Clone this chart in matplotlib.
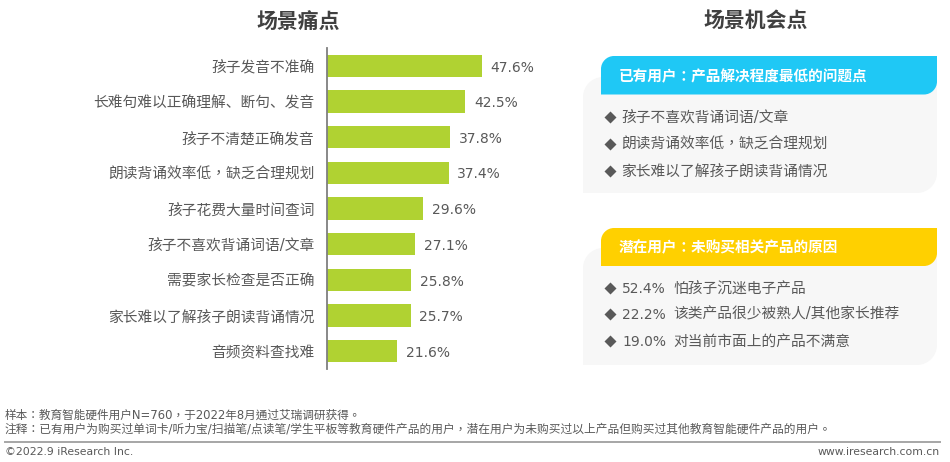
import matplotlib
matplotlib.use("Agg")
import matplotlib.pyplot as plt
from matplotlib.patches import PathPatch
from matplotlib.path import Path

SC = ['DejaVu Sans', 'Noto Sans CJK SC']
TC = ['DejaVu Sans', 'Noto Sans CJK TC']   # centred full-width punctuation
plt.rcParams['font.family'] = SC

categories = ['孩子发音不准确', '长难句难以正确理解、断句、发音', '孩子不清楚正确发音',
              '朗读背诵效率低，缺乏合理规划', '孩子花费大量时间查词', '孩子不喜欢背诵词语/文章',
              '需要家长检查是否正确', '家长难以了解孩子朗读背诵情况', '音频资料查找难']
values = [47.6, 42.5, 37.8, 37.4, 29.6, 27.1, 25.8, 25.7, 21.6]
title_left = '场景痛点'
title_right = '场景机会点'
head_existing = '已有用户：产品解决程度最低的问题点'
items_existing = ['孩子不喜欢背诵词语/文章', '朗读背诵效率低，缺乏合理规划', '家长难以了解孩子朗读背诵情况']
head_potential = '潜在用户：未购买相关产品的原因'
pct_potential = ['52.4%', '22.2%', '19.0%']
items_potential = ['怕孩子沉迷电子产品', '该类产品很少被熟人/其他家长推荐', '对当前市面上的产品不满意']
note_1 = '样本：教育智能硬件用户N=760，于2022年8月通过艾瑞调研获得。'
note_2 = '注释：已有用户为购买过单词卡/听力宝/扫描笔/点读笔/学生平板等教育硬件产品的用户，潜在用户为未购买过以上产品但购买过其他教育智能硬件产品的用户。'
copyright_text = '©2022.9 iResearch Inc.'
site_text = 'www.iresearch.com.cn'


def fam(s):
    return TC if ('，' in s or '：' in s) else SC


W, H = 950, 462
TXT = '#595959'
fig = plt.figure(figsize=(W / 100, H / 100), dpi=100, facecolor='white')

# pixel overlay for panels and notes
ov = fig.add_axes([0, 0, 1, 1])
ov.set_xlim(0, W)
ov.set_ylim(H, 0)
ov.axis('off')


def tab(x0, y0, x1, y1, r, color, z):
    """Rectangle with rounded top-left and bottom-right corners."""
    k = 0.45 * r
    verts = [(x0, y1), (x0, y0 + r), (x0, y0 + k), (x0 + k, y0), (x0 + r, y0),
             (x1, y0), (x1, y1 - r), (x1, y1 - k), (x1 - k, y1), (x1 - r, y1),
             (x0, y1), (x0, y1)]
    codes = [Path.MOVETO, Path.LINETO, Path.CURVE4, Path.CURVE4, Path.CURVE4,
             Path.LINETO, Path.LINETO, Path.CURVE4, Path.CURVE4, Path.CURVE4,
             Path.LINETO, Path.CLOSEPOLY]
    ov.add_patch(PathPatch(Path(verts, codes), facecolor=color, edgecolor='none', zorder=z))


tab(583, 77, 937, 193, 20, '#F7F7F7', 1)
tab(601, 56, 937, 94.5, 13, '#1FC8F5', 2)
tab(583, 248, 937, 365, 20, '#F7F7F7', 1)
tab(601, 228, 937, 266, 13, '#FFD000', 2)

ov.text(298, 22, title_left, fontsize=15, fontweight='bold', color='#404040', ha='center', va='center')
ov.text(755.5, 21, title_right, fontsize=15, fontweight='bold', color='#404040', ha='center', va='center')
ov.text(619, 76.5, head_existing, fontsize=10.55, fontweight='bold', color='white', va='center', zorder=3, family=fam(head_existing))
ov.text(619, 248, head_potential, fontsize=10.55, fontweight='bold', color='white', va='center', zorder=3, family=fam(head_potential))

for y, s in zip([117, 144, 171], items_existing):
    ov.plot([610], [y], marker='D', ms=6.6, color=TXT, mec='none', zorder=3)
    ov.text(621.5, y, s, fontsize=10.6, color=TXT, va='center', zorder=3, family=fam(s))
for y, p, s in zip([288, 314, 341], pct_potential, items_potential):
    ov.plot([610], [y], marker='D', ms=6.6, color=TXT, mec='none', zorder=3)
    ov.text(622, y + 1, p, fontsize=10, color=TXT, va='center', zorder=3)
    ov.text(673, y, s, fontsize=10.6, color=TXT, va='center', zorder=3)

ov.text(5, 415.5, note_1, fontsize=8.4, color=TXT, va='center', family=fam(note_1))
ov.text(5, 429.5, note_2, fontsize=8.45, color=TXT, va='center', family=fam(note_2))
ov.plot([5, 940], [442, 442], color='#A6A6A6', lw=1.4)
ov.text(5, 452, copyright_text, fontsize=7.8, color=TXT, va='center')
ov.text(940, 452, site_text, fontsize=7.8, color=TXT, va='center', ha='right')

# bar chart
left, right, top, bottom = 327, 490, 48, 369
ax = fig.add_axes([left / W, 1 - bottom / H, (right - left) / W, (bottom - top) / H])
ax.patch.set_alpha(0)
pos = list(range(len(categories)))
bars = ax.barh(pos, values, height=0.63, color='#B0D232')
ax.set_xlim(0, (right - left) / 3.257)
ax.set_ylim(len(categories) - 0.5, -0.5)
ax.set_yticks(pos, categories, fontsize=10.6, color=TXT)
for lab, s in zip(ax.get_yticklabels(), categories):
    lab.set_family(fam(s))
ax.tick_params(axis='y', length=0, pad=9)
ax.xaxis.set_visible(False)
for s in ['top', 'right', 'bottom']:
    ax.spines[s].set_visible(False)
ax.spines['left'].set_color('#7F7F7F')
ax.spines['left'].set_linewidth(1.3)
for p, v in zip(pos, values):
    ax.annotate(f'{v:.1f}%', (v, p), xytext=(6.1, -1.2), textcoords='offset points',
                fontsize=10, color=TXT, va='center', annotation_clip=False)

fig.savefig('out.png', dpi=100)
